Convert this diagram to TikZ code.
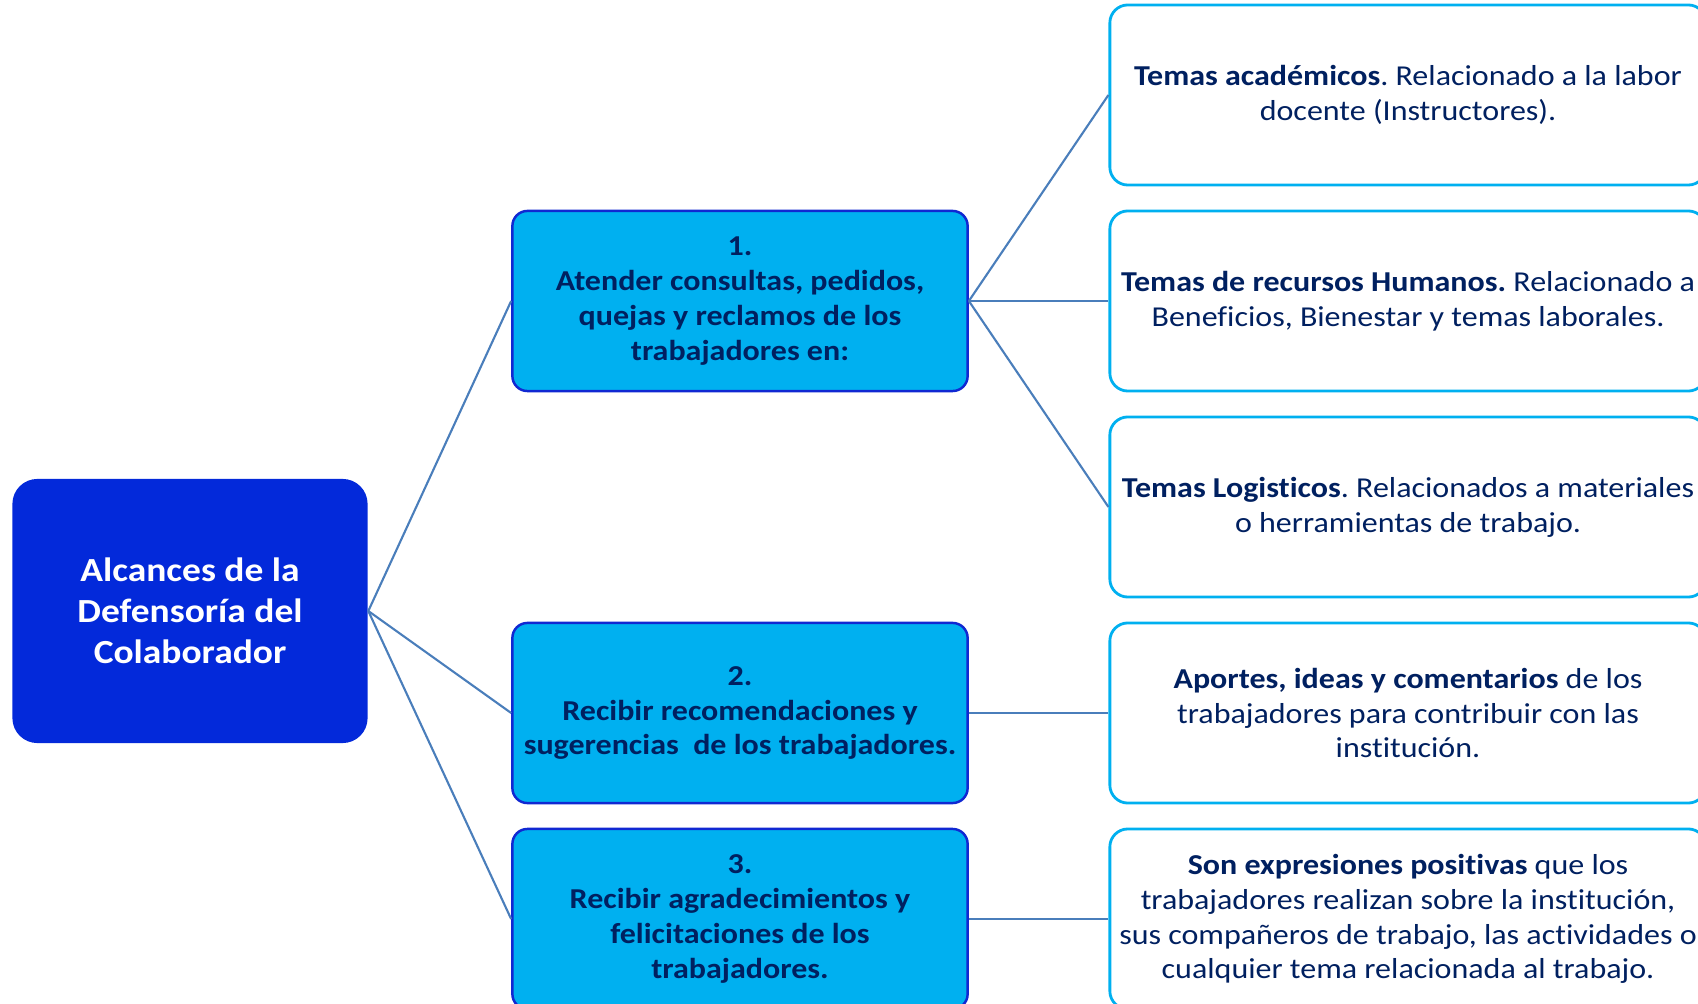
\documentclass[tikz,border=0pt]{standalone}
\usepackage{fontspec}
\setmainfont{Carlito}[FakeStretch=1.11,Ligatures=NoCommon]
\usepackage{xcolor}
\usetikzlibrary{positioning}
\definecolor{azulraiz}{RGB}{3,41,218}
\definecolor{celeste}{RGB}{0,176,240}
\definecolor{marino}{RGB}{0,32,96}
\definecolor{azulborde}{RGB}{16,40,210}
\definecolor{azullinea}{RGB}{74,126,187}
\frenchspacing

\begin{document}
\begin{tikzpicture}[x=0.01cm,y=-0.01cm,
    raiz/.style={fill=azulraiz,draw=none,rounded corners=0.25cm,minimum width=3.55cm,minimum height=2.64cm,
      align=center,text=white,font=\fontsize{9.6}{11.7}\selectfont\bfseries},
    alcance/.style={fill=celeste,draw=azulborde,line width=0.7pt,rounded corners=0.15cm,minimum width=4.55cm,
      minimum height=1.80cm,align=center,text=marino,font=\fontsize{8.2}{9.9}\selectfont\bfseries,inner sep=2pt},
    detalle/.style={fill=white,draw=celeste,line width=0.8pt,rounded corners=0.18cm,minimum width=5.96cm,
      minimum height=1.80cm,align=center,text=marino,font=\fontsize{8.2}{9.9}\selectfont,inner sep=2pt},
    conector/.style={draw=azullinea,line width=0.6pt}]
  \clip (0,0) rectangle (1698,1004);
  \useasboundingbox (0,0) rectangle (1698,1004);
  % raiz
  \node[raiz] (alc) at (190,611) {Alcances de la\\Defensoría del\\Colaborador};
  % alcances
  \node[alcance] (a1) at (740,301) {1.\\Atender consultas, pedidos,\\quejas y reclamos de los\\trabajadores en:};
  \node[alcance] (a2) at (740,713) {2.\\Recibir recomendaciones y\\sugerencias~ de los trabajadores.};
  \node[alcance] (a3) at (740,919) {3.\\Recibir agradecimientos y\\felicitaciones de los\\trabajadores.};
  % detalles
  \node[detalle] (d1) at (1408,95) {\textbf{Temas académicos}. Relacionado a la labor\\docente (Instructores).};
  \node[detalle] (d2) at (1408,301) {\textbf{Temas de recursos Humanos.} Relacionado a\\Beneficios, Bienestar y temas laborales.};
  \node[detalle] (d3) at (1408,507) {\textbf{Temas Logisticos}. Relacionados a materiales\\o herramientas de trabajo.};
  \node[detalle] (d4) at (1408,713) {\textbf{Aportes, ideas y comentarios} de los\\trabajadores para contribuir con las\\institución.};
  \node[detalle] (d5) at (1408,919) {\textbf{Son expresiones positivas} que los\\trabajadores realizan sobre la institución,\\sus compañeros de trabajo, las actividades o\\cualquier tema relacionada al trabajo.};
  % conectores
  \foreach \n in {a1,a2,a3}
    \draw[conector] (alc.east) -- (\n.west);
  \foreach \n in {d1,d2,d3}
    \draw[conector] (a1.east) -- (\n.west);
  \draw[conector] (a2.east) -- (d4.west);
  \draw[conector] (a3.east) -- (d5.west);
\end{tikzpicture}
\end{document}
